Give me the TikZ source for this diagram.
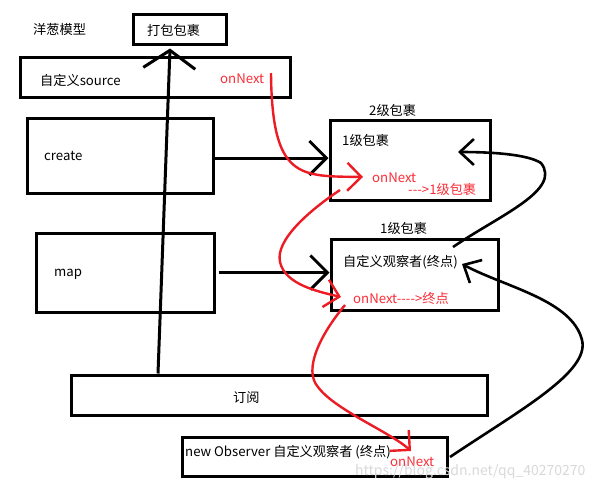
\documentclass[tikz,border=0pt]{standalone}
\usepackage{fontspec}
\newfontfamily\cjkfont{Noto Sans CJK SC}
\usetikzlibrary{arrows.meta}
\definecolor{pred}{RGB}{237,28,36}
\definecolor{tred}{RGB}{250,45,55}
\tikzset{
  box/.style={draw=black,line width=3pt,minimum width=#1,inner sep=0pt},
  lbl/.style={anchor=west,inner sep=0pt,font=\cjkfont\fontsize{13.2}{15}\selectfont},
  rlbl/.style={lbl,text=tred},
  blk/.style={draw=black,line width=3pt,-{Straight Barb[length=17pt,width=34pt,line width=3pt]}},
  redc/.style={draw=pred,line width=2.4pt,-{Straight Barb[length=14pt,width=28pt,line width=2.4pt]}},
  blkc/.style={draw=black,line width=2.6pt,-{Straight Barb[length=14pt,width=26pt,line width=2.6pt]}},
}
\begin{document}
\begin{tikzpicture}[x=1pt,y=-1pt]
\useasboundingbox (0,0) rectangle (608,491);
\fill[white] (0,0) rectangle (608,491);
% boxes
\node[box=93pt,minimum height=30pt] (pack) at (179.5,29) {};
\node[box=270pt,minimum height=40pt] (src) at (155,77) {};
\node[box=186pt,minimum height=75pt] (create) at (120,155.5) {};
\node[box=178pt,minimum height=79pt] (map) at (125,272.5) {};
\node[box=160pt,minimum height=80pt] (box2) at (410,160) {};
\node[box=167pt,minimum height=71pt] (box1) at (414.5,274.5) {};
\node[box=416pt,minimum height=40pt] (sub) at (279,395) {};
\node[box=265pt,minimum height=39pt] (obs) at (314.5,456.5) {};
% texts
\node[lbl] (t1) at (33,29) {洋葱模型};
\node[lbl] (t2) at (147,30) {打包包裹};
\node[lbl] (t3) at (40,80) {自定义source};
\node[rlbl] (on1) at (220,79) {onNext};
\node[lbl] (t4) at (44,156) {create};
\node[lbl] (t5) at (54,274) {map};
\node[lbl] (t6) at (369,110) {2级包裹};
\node[lbl] (t7) at (342,140) {1级包裹};
\node[rlbl] (on2) at (372,178) {onNext};
\node[rlbl] (t8) at (408,189) {--->1级包裹};
\node[lbl] (t9) at (380,228) {1级包裹};
\node[lbl] (t10) at (343,262) {自定义观察者(终点)};
\node[rlbl] (on3) at (353,298) {onNext---->终点};
\node[lbl] (t11) at (233,398) {订阅};
\node[lbl] (t12) at (185,452) {new Observer 自定义观察者 (终点)};
\node[rlbl] (on4) at (390,462) {onNext};
\node[anchor=west,inner sep=0pt,text=black!15,font=\cjkfont\fontsize{14}{16}\selectfont] (wm) at (355,472) {https://blog.csdn.net/qq\_40270270};
% black connectors
\draw[draw=black,line width=3pt,-{Straight Barb[length=18pt,width=52pt,line width=3pt]}]
  ([xshift=-121pt]sub.north) -- ([xshift=-9.5pt,yshift=-3pt]pack.south);
\draw[blk] (create.east |- 0,158) -- (box2.west |- 0,158);
\draw[blk] ([xshift=3pt]map.east) -- (box1.west |- map.east);
% red curves
\coordinate (r1s) at (271,73);
\coordinate (r1e) at (363,177);
\draw[redc] (r1s) .. controls (272,180) and (300,176) .. (r1e);
\coordinate (r2s) at (340,190);
\coordinate (r2e) at (341,297);
\draw[redc] (r2s) .. controls (310,210) and (275,240) .. (280,262)
  .. controls (285,285) and (320,292) .. (r2e);
\coordinate (r3s) at (345,305);
\coordinate (r3e) at (411,451);
\draw[redc] (r3s) .. controls (320,335) and (303,370) .. (318,387)
  .. controls (335,410) and (390,432) .. (r3e);
% black curves
\coordinate (b1s) at (453,247);
\coordinate (b1e) at (458,152);
\draw[blkc] (b1s) .. controls (500,215) and (562,190) .. (541,163)
  .. controls (527,154) and (490,152) .. (b1e);
\coordinate (b2s) at (450,457);
\coordinate (b2e) at (462,264);
\draw[blkc] (b2s) .. controls (520,410) and (590,372) .. (582,340)
  .. controls (572,300) and (505,287) .. (b2e);
\end{tikzpicture}
\end{document}
